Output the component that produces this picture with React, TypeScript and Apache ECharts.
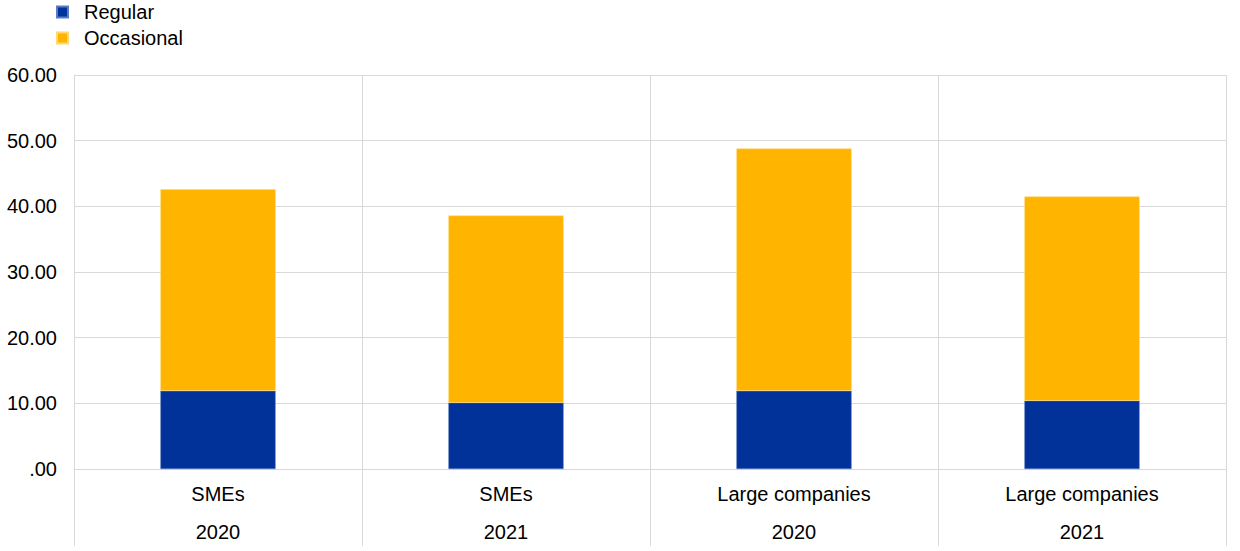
import React, { useEffect, useRef } from "react";
import * as echarts from "echarts";

const categories = ["SMEs", "SMEs", "Large companies", "Large companies"];
const years = ["2020", "2021", "2020", "2021"];
const regular = [11.9, 10.1, 11.9, 10.4];
const occasional = [30.7, 28.5, 36.9, 31.1];
const seriesNames = ["Regular", "Occasional"];

const FONT = "Liberation Sans, Arial, sans-serif";
const GRID = "#d9d9d9";

export default function App() {
  const ref = useRef<HTMLDivElement>(null);
  useEffect(() => {
    if (!ref.current) return;
    const chart = echarts.init(ref.current, undefined, { renderer: "svg" });
    const labels = categories.map((c, i) => `${c}\n${years[i]}`);
    chart.setOption({
      animation: false,
      textStyle: { fontFamily: FONT },
      legend: {
        orient: "vertical",
        left: 56,
        top: 2,
        padding: 0,
        itemWidth: 11,
        itemHeight: 11,
        itemGap: 6,
        icon: "rect",
        textStyle: { fontSize: 20, color: "#000", fontFamily: FONT, padding: [0, 0, 0, 11] },
        data: seriesNames,
      },
      grid: { left: 74, right: 14, top: 75, bottom: 80, containLabel: false },
      xAxis: {
        type: "category",
        data: labels,
        axisLine: { show: true, lineStyle: { color: GRID } },
        axisTick: { show: true, length: 77, lineStyle: { color: GRID } },
        splitLine: { show: true, lineStyle: { color: GRID } },
        axisLabel: {
          margin: 6,
          color: "#000",
          fontSize: 20,
          fontFamily: FONT,
          lineHeight: 38,
        },
      },
      yAxis: {
        type: "value",
        min: 0,
        max: 60,
        interval: 10,
        axisLine: { show: true, lineStyle: { color: GRID } },
        axisTick: { show: false },
        splitLine: { show: true, lineStyle: { color: GRID } },
        axisLabel: {
          margin: 17,
          color: "#000",
          fontSize: 20,
          fontFamily: FONT,
          formatter: (v: number) => (v === 0 ? ".00" : v.toFixed(2)),
        },
      },
      series: [
        {
          name: seriesNames[0],
          type: "bar",
          stack: "total",
          data: regular,
          barWidth: "40%",
          itemStyle: { color: "#003299", borderColor: "#5b7cc4", borderWidth: 0.5 },
        },
        {
          name: seriesNames[1],
          type: "bar",
          stack: "total",
          data: occasional,
          barWidth: "40%",
          itemStyle: { color: "#FFB400", borderColor: "#ffd873", borderWidth: 0.5 },
        },
      ],
    });
    return () => chart.dispose();
  }, []);
  return (
    <div
      ref={ref}
      style={{ position: "fixed", left: 0, top: 0, width: 1240, height: 551, background: "#fff" }}
    />
  );
}
